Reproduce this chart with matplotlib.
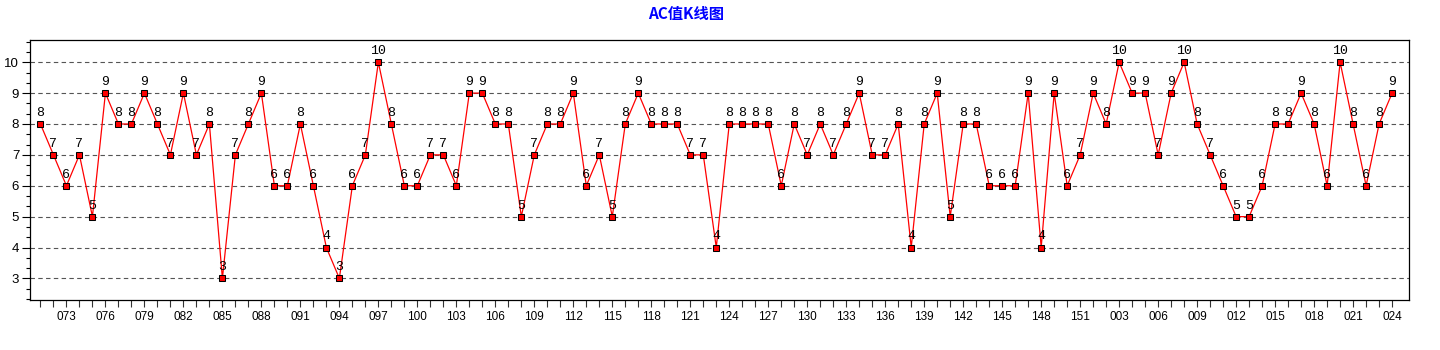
import matplotlib
matplotlib.use("Agg")
import matplotlib.pyplot as plt
from matplotlib.ticker import MultipleLocator

plt.rcParams['font.family'] = ['Liberation Sans', 'DejaVu Sans']

# Periods: 071..151 then 001..024
periods = [f"{i:03d}" for i in range(71, 152)] + [f"{i:03d}" for i in range(1, 25)]

ac_values = [
    8, 7, 6, 7, 5, 9, 8, 8, 9, 8, 7, 9, 7, 8, 3, 7, 8, 9, 6, 6,
    8, 6, 4, 3, 6, 7, 10, 8, 6, 6, 7, 7, 6, 9, 9, 8, 8, 5, 7, 8,
    8, 9, 6, 7, 5, 8, 9, 8, 8, 8, 7, 7, 4, 8, 8, 8, 8, 6, 8, 7,
    8, 7, 8, 9, 7, 7, 8, 4, 8, 9, 5, 8, 8, 6, 6, 6, 9, 4, 9, 6,
    7, 9, 8, 10, 9, 9, 7, 9, 10, 8, 7, 6, 5, 5, 6, 8, 8, 9, 8, 6,
    10, 8, 6, 8, 9,
]

y_ticks = [3, 4, 5, 6, 7, 8, 9, 10]
title = "AC值K线图"

fig = plt.figure(figsize=(14.4, 3.5), dpi=100)
ax = fig.add_axes([30.3 / 1440, 1 - 300 / 350, (1409 - 30.3) / 1440, 260 / 350])

x = list(range(len(ac_values)))
ax.plot(x, ac_values, color='#ff0000', linewidth=0.9, marker='s', markersize=3.9,
        markerfacecolor='#ff0000', markeredgecolor='black', markeredgewidth=0.75, zorder=3)

for xi, v in zip(x, ac_values):
    ax.annotate(str(v), (xi, v), xytext=(0, 8), textcoords='offset points',
                ha='center', va='center', fontsize=9.5, family=['Liberation Mono', 'DejaVu Sans'],
                color='black', zorder=4)

ax.set_xlim(-0.78, 105.3)
ax.set_ylim(2.3, 10.72)

# y grid
for yt in y_ticks:
    ax.axhline(yt, color='#555555', linewidth=0.8, linestyle=(0, (4, 3)), zorder=1)

ax.set_yticks(y_ticks)
ax.set_yticklabels([str(t) for t in y_ticks], fontsize=9.5)
ax.yaxis.set_minor_locator(MultipleLocator(1 / 3))
ax.tick_params(axis='y', which='major', length=6, width=0.8, pad=2)
ax.tick_params(axis='y', which='minor', length=3, width=0.8)

ax.set_xticks(x)
ax.set_xticklabels([p if (i - 2) % 3 == 0 else '' for i, p in enumerate(periods)], fontsize=8.5)
ax.tick_params(axis='x', which='major', length=5, width=0.8, pad=3, colors='#333333', labelcolor='black')

for s in ax.spines.values():
    s.set_linewidth(0.9)
    s.set_color('black')

fig.text(686 / 1440, 1 - 14 / 350, title, ha='center', va='center', color='#0000ff',
         fontsize=11, fontweight='bold', family=['Noto Sans CJK SC', 'DejaVu Sans'])

fig.savefig('out.png', dpi=100)
